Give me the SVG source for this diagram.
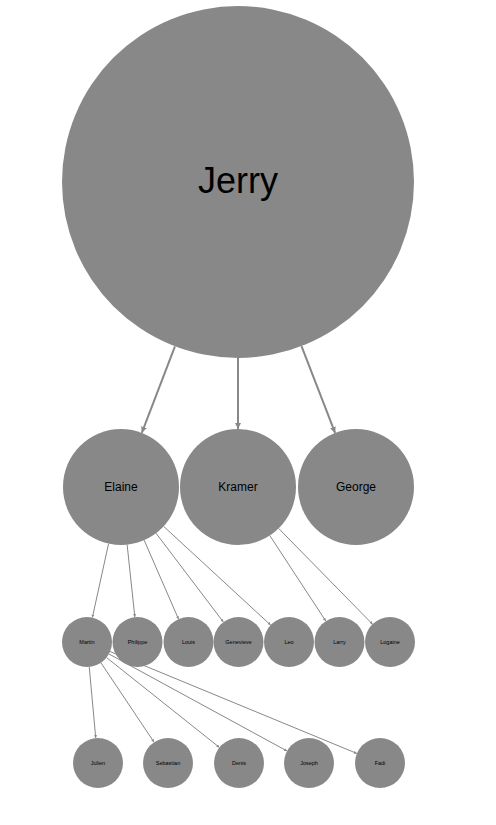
<svg xmlns="http://www.w3.org/2000/svg" width="496" height="825" viewBox="0 0 496 825">
<style>
  .node circle { fill: #888888; }
  .node text { font-family: "Liberation Sans", Arial, Helvetica, sans-serif; fill: #000; text-anchor: middle; }
  .link { stroke: #888888; fill: none; }
  .l1 { stroke-width: 2; }
  .l2 { stroke-width: 1; }
  .big { font-size: 36px; }
  .mid { font-size: 12px; }
  .small { font-size: 5.5px; }
</style>
<defs>
  <marker id="arrow" viewBox="0 0 10 10" refX="10" refY="5" markerWidth="3" markerHeight="3" markerUnits="strokeWidth" orient="auto">
    <path d="M0,0 L10,5 L0,10 z" fill="#888888"/>
  </marker>
</defs>
<rect width="496" height="825" fill="#ffffff"/>
<g id="connectors">
  <line class="link l1" x1="174.96" y1="346.3" x2="141.8" y2="432.8" marker-end="url(#arrow)"/>
  <line class="link l1" x1="238" y1="358" x2="238" y2="429" marker-end="url(#arrow)"/>
  <line class="link l1" x1="301.5" y1="346.2" x2="335.1" y2="432.9" marker-end="url(#arrow)"/>
  <line class="link l2" x1="108.57" y1="543.65" x2="92.36" y2="617.58" marker-end="url(#arrow)"/>
  <line class="link l2" x1="127.14" y1="544.67" x2="134.85" y2="617.14" marker-end="url(#arrow)"/>
  <line class="link l2" x1="144.16" y1="540.18" x2="178.52" y2="619.08" marker-end="url(#arrow)"/>
  <line class="link l2" x1="156.04" y1="533.22" x2="223.4" y2="622.08" marker-end="url(#arrow)"/>
  <line class="link l2" x1="163.63" y1="526.33" x2="270.63" y2="625.05" marker-end="url(#arrow)"/>
  <line class="link l2" x1="269.77" y1="535.52" x2="325.8" y2="621.09" marker-end="url(#arrow)"/>
  <line class="link l2" x1="278.61" y1="528.41" x2="372.5" y2="624.15" marker-end="url(#arrow)"/>
  <line class="link l2" x1="89.26" y1="666.9" x2="95.74" y2="738.1" marker-end="url(#arrow)"/>
  <line class="link l2" x1="100.91" y1="662.77" x2="154.09" y2="742.23" marker-end="url(#arrow)"/>
  <line class="link l2" x1="106.56" y1="657.57" x2="219.44" y2="747.43" marker-end="url(#arrow)"/>
  <line class="link l2" x1="108.95" y1="653.97" x2="287.05" y2="751.03" marker-end="url(#arrow)"/>
  <line class="link l2" x1="110.11" y1="651.54" x2="356.89" y2="753.46" marker-end="url(#arrow)"/>
</g>
<g id="node-jerry" class="node"><circle cx="238" cy="182" r="176"/><text class="big" x="238" y="193">Jerry</text></g>
<g id="node-elaine" class="node"><circle cx="121" cy="487" r="58"/><text class="mid" x="121" y="491.2">Elaine</text></g>
<g id="node-kramer" class="node"><circle cx="238" cy="487" r="58"/><text class="mid" x="238" y="491.2">Kramer</text></g>
<g id="node-george" class="node"><circle cx="356" cy="487" r="58"/><text class="mid" x="356" y="491.2">George</text></g>
<g id="node-martin" class="node"><circle cx="87" cy="642" r="25"/><text class="small" x="87" y="644">Martin</text></g>
<g id="node-philippe" class="node"><circle cx="137.5" cy="642" r="25"/><text class="small" x="137.5" y="644">Philippe</text></g>
<g id="node-louis" class="node"><circle cx="188.5" cy="642" r="25"/><text class="small" x="188.5" y="644">Louis</text></g>
<g id="node-genevieve" class="node"><circle cx="238.5" cy="642" r="25"/><text class="small" x="238.5" y="644">Genevieve</text></g>
<g id="node-leo" class="node"><circle cx="289" cy="642" r="25"/><text class="small" x="289" y="644">Leo</text></g>
<g id="node-larry" class="node"><circle cx="339.5" cy="642" r="25"/><text class="small" x="339.5" y="644">Larry</text></g>
<g id="node-logaine" class="node"><circle cx="390" cy="642" r="25"/><text class="small" x="390" y="644">Logaine</text></g>
<g id="node-julien" class="node"><circle cx="98" cy="763" r="25"/><text class="small" x="98" y="765">Julien</text></g>
<g id="node-sebastian" class="node"><circle cx="168" cy="763" r="25"/><text class="small" x="168" y="765">Sebastian</text></g>
<g id="node-denis" class="node"><circle cx="239" cy="763" r="25"/><text class="small" x="239" y="765">Denis</text></g>
<g id="node-joseph" class="node"><circle cx="309" cy="763" r="25"/><text class="small" x="309" y="765">Joseph</text></g>
<g id="node-fadi" class="node"><circle cx="380" cy="763" r="25"/><text class="small" x="380" y="765">Fadi</text></g>
</svg>
